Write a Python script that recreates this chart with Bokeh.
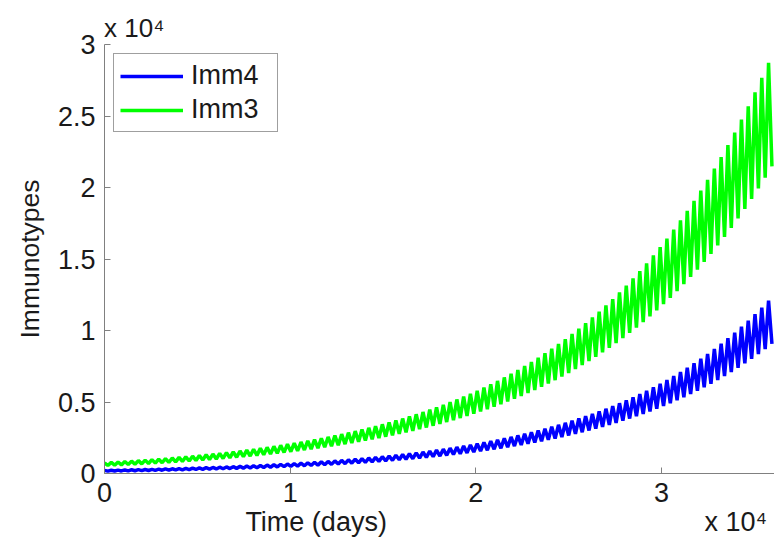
from bokeh.plotting import figure
from bokeh.models import Range1d, Legend, LegendItem, CustomJSTickFormatter, FixedTicker, LinearAxis
from bokeh.embed import file_html
from bokeh.resources import INLINE

# ---- data ----
cycle_days = 365  # one oscillation per year

# Imm3 (green): value at each yearly peak and the following trough
imm3_peak = [748, 776, 805, 836, 867, 900, 935, 970, 1007, 1045,
             1085, 1126, 1169, 1213, 1259, 1307, 1356, 1408, 1461, 1516,
             1574, 1634, 1696, 1760, 1827, 1896, 1968, 2043, 2120, 2200,
             2284, 2371, 2461, 2554, 2651, 2751, 2856, 2964, 3076, 3193,
             3314, 3440, 3570, 3706, 3846, 3992, 4144, 4301, 4464, 4633,
             4809, 4992, 5181, 5377, 5581, 5793, 6013, 6241, 6478, 6723,
             6978, 7243, 7518, 7803, 8099, 8406, 8725, 9056, 9400, 9756,
             10126, 10511, 10909, 11323, 11753, 12198, 12661, 13141, 13640, 14157,
             14694, 15252, 15830, 16431, 17054, 17701, 18372, 19069, 19793, 20543,
             21323, 22131, 22971, 23842, 24747, 25685, 26660, 27671, 28721]
imm3_trough = [559, 580, 602, 625, 649, 673, 699, 725, 753, 781,
               811, 842, 874, 907, 941, 977, 1014, 1053, 1093, 1134,
               1177, 1222, 1268, 1316, 1366, 1418, 1472, 1527, 1585, 1646,
               1708, 1773, 1840, 1910, 1982, 2057, 2136, 2217, 2301, 2388,
               2478, 2572, 2670, 2771, 2876, 2986, 3099, 3216, 3338, 3465,
               3596, 3733, 3874, 4021, 4174, 4332, 4497, 4667, 4844, 5028,
               5219, 5417, 5622, 5835, 6057, 6287, 6525, 6773, 7029, 7296,
               7573, 7860, 8158, 8468, 8789, 9122, 9468, 9827, 10200, 10587,
               10989, 11406, 11838, 12287, 12753, 13237, 13739, 14260, 14801, 15363,
               15946, 16550, 17178, 17830, 18506, 19208, 19937, 20693, 21478]

# Imm4 (blue)
imm4_peak = [220, 229, 239, 249, 259, 270, 281, 293, 305, 318,
             331, 345, 359, 374, 390, 406, 423, 441, 459, 478,
             498, 519, 541, 563, 587, 611, 637, 663, 691, 720,
             750, 781, 814, 848, 883, 920, 958, 998, 1040, 1083,
             1129, 1176, 1225, 1276, 1329, 1385, 1442, 1503, 1565, 1631,
             1699, 1770, 1843, 1920, 2000, 2084, 2171, 2261, 2356, 2454,
             2557, 2663, 2774, 2890, 3011, 3136, 3267, 3404, 3546, 3694,
             3848, 4008, 4175, 4350, 4531, 4720, 4917, 5122, 5336, 5559,
             5791, 6032, 6284, 6546, 6819, 7104, 7400, 7709, 8031, 8366,
             8715, 9079, 9458, 9852, 10263, 10692, 11138, 11602, 12087]
imm4_trough = [165, 172, 179, 187, 194, 202, 211, 220, 229, 238,
               248, 259, 269, 281, 292, 305, 317, 331, 344, 359,
               374, 389, 406, 422, 440, 458, 478, 498, 518, 540,
               562, 586, 610, 636, 662, 690, 719, 749, 780, 813,
               847, 882, 919, 957, 997, 1039, 1082, 1127, 1174, 1223,
               1274, 1327, 1383, 1440, 1500, 1563, 1628, 1696, 1767, 1841,
               1917, 1997, 2081, 2168, 2258, 2352, 2450, 2553, 2659, 2770,
               2886, 3006, 3132, 3262, 3398, 3540, 3688, 3842, 4002, 4169,
               4343, 4524, 4713, 4910, 5115, 5328, 5550, 5782, 6023, 6275,
               6536, 6809, 7093, 7389, 7697, 8019, 8353, 8702, 9065]

x_ticks = [0, 10000, 20000, 30000]
y_ticks = [0, 5000, 10000, 15000, 20000, 25000, 30000]
series_names = ["Imm4", "Imm3"]
series_colors = ["#0000ff", "#00ff00"]
x_title = "Time (days)"
y_title = "Immunotypes"
exp_text = "x 10\u2074"


def zigzag(peaks, troughs):
    xs, ys = [], []
    for k, (pk, tr) in enumerate(zip(peaks, troughs)):
        xs += [k * cycle_days, k * cycle_days + cycle_days / 2]
        ys += [pk, tr]
    return xs, ys


FONT = "Liberation Sans"
TXT = "#1a1a1a"
AX = "#808080"

p = figure(width=774, height=544, output_backend="svg", toolbar_location=None,
           x_range=Range1d(0, 36090), y_range=Range1d(0, 30000),
           min_border_left=104, min_border_right=0, min_border_top=44, min_border_bottom=71)
p.outline_line_color = None
p.xgrid.visible = False
p.ygrid.visible = False
p.background_fill_color = "white"
p.border_fill_color = "white"

x4, y4 = zigzag(imm4_peak, imm4_trough)
x3, y3 = zigzag(imm3_peak, imm3_trough)
r4 = p.line(x4, y4, line_color=series_colors[0], line_width=3.5)
r3 = p.line(x3, y3, line_color=series_colors[1], line_width=3.5)

fmt = CustomJSTickFormatter(code="return String(Math.round(tick/1000)/10);")
for ax, ticks in ((p.xaxis[0], x_ticks), (p.yaxis[0], y_ticks)):
    ax.ticker = FixedTicker(ticks=ticks)
    ax.formatter = fmt
    ax.axis_line_color = AX
    ax.major_tick_line_color = AX
    ax.minor_tick_line_color = None
    ax.major_tick_in = 6
    ax.major_tick_out = 0
    ax.major_label_text_font = FONT
    ax.major_label_text_font_size = "27px"
    ax.major_label_text_color = TXT
p.xaxis[0].major_label_standoff = 9
p.yaxis[0].major_label_standoff = 9
p.yaxis[0].axis_label = y_title
p.yaxis[0].axis_label_text_font = FONT
p.yaxis[0].axis_label_text_font_size = "26.5px"
p.yaxis[0].axis_label_text_font_style = "normal"
p.yaxis[0].axis_label_text_color = TXT
p.yaxis[0].axis_label_standoff = 10


def text_axis(pos_to_text, side, size, standoff):
    ax = LinearAxis(ticker=FixedTicker(ticks=list(pos_to_text)),
                    major_label_overrides=pos_to_text)
    ax.axis_line_color = None
    ax.major_tick_line_color = None
    ax.minor_tick_line_color = None
    ax.major_tick_in = 0
    ax.major_tick_out = 0
    ax.major_label_standoff = standoff
    ax.major_label_text_font = FONT
    ax.major_label_text_font_size = size
    ax.major_label_text_color = TXT
    p.add_layout(ax, side)


# exponent note above the y axis; x-axis title and exponent note below
text_axis({1600: exp_text}, "above", "26px", 2)
text_axis({11400: x_title, 34000: exp_text}, "below", "27px", 2)

legend = Legend(items=[LegendItem(label=series_names[0], renderers=[r4]),
                       LegendItem(label=series_names[1], renderers=[r3])],
                location="top_left", margin=9, padding=6, spacing=3,
                glyph_width=63, glyph_height=26, label_height=26, label_standoff=8,
                label_width=80,
                label_text_font=FONT, label_text_font_size="27px", label_text_color=TXT,
                border_line_color="#404040", border_line_width=1,
                background_fill_color="white", background_fill_alpha=1.0)
p.add_layout(legend)

open("out.html", "w").write(file_html(p, INLINE))
